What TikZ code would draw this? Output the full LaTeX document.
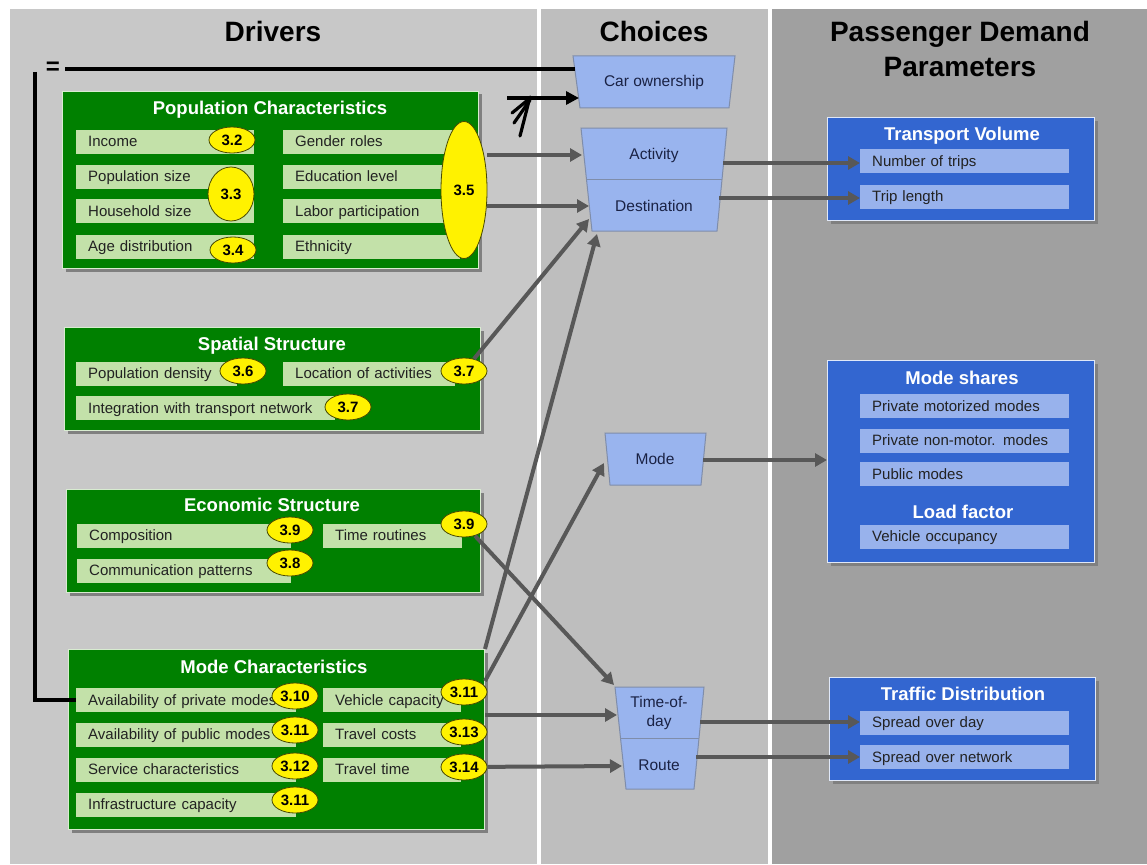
\documentclass[tikz,border=0pt]{standalone}
\usepackage{fontspec}
\setmainfont{Liberation Sans}
\usetikzlibrary{shapes.geometric,arrows.meta,calc,shadows}
\definecolor{drvbg}{HTML}{C8C8C8}
\definecolor{chbg}{HTML}{BEBEBE}
\definecolor{pdbg}{HTML}{A0A0A0}
\definecolor{boxgreen}{HTML}{008000}
\definecolor{gedge}{HTML}{D8ECD0}
\definecolor{itemgreen}{HTML}{C3E1A9}
\definecolor{boxblue}{HTML}{3366D0}
\definecolor{bedge}{HTML}{E0E8F8}
\definecolor{itemblue}{HTML}{98B2EC}
\definecolor{trapfill}{HTML}{99B4EE}
\definecolor{trapedge}{HTML}{7F8DAA}
\definecolor{arrgray}{HTML}{585858}
\definecolor{shadowgray}{HTML}{808080}
\definecolor{badgeedge}{HTML}{4A4A00}
\definecolor{txtdark}{HTML}{222222}
\definecolor{chtext}{HTML}{1A2244}
\newcommand\hdrfont{\fontsize{28}{35}\selectfont\bfseries}
\newcommand\grpfont{\fontsize{18.5}{20}\selectfont\bfseries}
\newcommand\itmfont{\fontsize{15}{17}\selectfont}
\newcommand\bdgfont{\fontsize{15}{16}\selectfont\bfseries}
\newcommand\chfont{\fontsize{15.5}{19}\selectfont}
\begin{document}
\begin{tikzpicture}[x=1pt,y=-1pt,
  gbox/.style={fill=boxgreen, draw=gedge, line width=1pt, drop shadow={shadow xshift=3pt, shadow yshift=-3pt, fill=shadowgray, opacity=1}, anchor=north west, inner sep=0pt},
  bbox/.style={fill=boxblue, draw=bedge, line width=1pt, drop shadow={shadow xshift=3pt, shadow yshift=-3pt, fill=shadowgray, opacity=1}, anchor=north west, inner sep=0pt},
  gtitle/.style={font=\grpfont, text=white, anchor=base},
  itm/.style={fill=itemgreen, inner xsep=12pt, inner ysep=0pt, minimum height=24pt, text height=13pt, text depth=3pt, align=left, anchor=west, font=\itmfont, text=txtdark},
  bitm/.style={itm, fill=itemblue},
  bdg/.style={ellipse, fill=yellow, draw=badgeedge, line width=0.8pt, inner sep=0pt, minimum width=46pt, minimum height=26pt, font=\bdgfont},
  trap/.style={fill=trapfill, draw=trapedge, line width=1pt},
  chlbl/.style={font=\chfont, text=chtext, align=center},
  arr/.style={draw=arrgray, line width=4pt, -{Triangle[length=12pt,width=13pt]}},
  blk/.style={draw=black, line width=3.5pt},
  hdr/.style={font=\hdrfont, anchor=base}
]
\useasboundingbox (0,0) rectangle (1147,864);
\fill[white] (0,0) rectangle (1147,864);
\fill[drvbg] (10,9) rectangle (537,864);
\fill[chbg] (541,9) rectangle (768,864);
\fill[pdbg] (772,9) rectangle (1147,864);

\node[hdr] (hdrv) at (273,42) {Drivers};
\node[hdr] (hch) at (654,42) {Choices};
\node[hdr] (hpd1) at (960,42) {Passenger Demand};
\node[hdr] (hpd2) at (960,77) {Parameters};

% Population characteristics
\node[gbox, minimum width=416pt, minimum height=177pt] (pop) at (62,91) {};
\node[gtitle] (popt) at (270,114) {Population Characteristics};
\node[itm, text width=154pt] (inc) at (76,141.5) {Income};
\node[itm, text width=154pt] (psz) at (76,176.5) {Population size};
\node[itm, text width=154pt] (hsz) at (76,211) {Household size};
\node[itm, text width=154pt] (age) at (76,246.5) {Age distribution};
\node[itm, text width=153pt] (gen) at (283,141.5) {Gender roles};
\node[itm, text width=153pt] (edu) at (283,176.5) {Education level};
\node[itm, text width=153pt] (lab) at (283,211) {Labor participation};
\node[itm, text width=153pt] (eth) at (283,246.5) {Ethnicity};
\node[bdg] (b32) at (232,140) {3.2};
\node[bdg, minimum height=54pt] (b33) at (231,194) {3.3};
\node[bdg] (b34) at (233,250) {3.4};
\node[bdg, minimum height=137pt] (b35) at (464,190) {3.5};

% Spatial structure
\node[gbox, minimum width=416pt, minimum height=103pt] (spa) at (64,327) {};
\node[gtitle] (spat) at (272,350.5) {Spatial Structure};
\node[itm, text width=137pt] (pden) at (76,373.5) {Population density};
\node[itm, text width=148pt] (loc) at (283,373.5) {Location of activities};
\node[itm, text width=235pt] (integ) at (76,408) {Integration with transport network};
\node[bdg] (b36) at (243,371) {3.6};
\node[bdg] (b37a) at (464,371) {3.7};
\node[bdg] (b37b) at (348,407) {3.7};

% Economic structure
\node[gbox, minimum width=414pt, minimum height=103pt] (eco) at (66,489) {};
\node[gtitle] (ecot) at (272,511.5) {Economic Structure};
\node[itm, text width=190pt] (comp) at (77,535.5) {Composition};
\node[itm, text width=115pt] (trout) at (323,535.5) {Time routines};
\node[itm, text width=190pt] (comm) at (77,570.5) {Communication patterns};
\node[bdg] (b39a) at (290,530) {3.9};
\node[bdg] (b39b) at (464,524) {3.9};
\node[bdg] (b38) at (290,563) {3.8};

% Mode characteristics
\node[gbox, minimum width=416pt, minimum height=180pt] (mch) at (68,649) {};
\node[gtitle] (mcht) at (274,673.5) {Mode Characteristics};
\node[itm, text width=196pt] (apm) at (76,700) {Availability of private modes};
\node[itm, text width=196pt] (apub) at (76,734.5) {Availability of public modes};
\node[itm, text width=196pt] (serv) at (76,769.5) {Service characteristics};
\node[itm, text width=196pt] (infra) at (76,804.5) {Infrastructure capacity};
\node[itm, text width=114pt] (vcap) at (323,700) {Vehicle capacity};
\node[itm, text width=114pt] (tcost) at (323,734.5) {Travel costs};
\node[itm, text width=114pt] (ttime) at (323,769.5) {Travel time};
\node[bdg] (b310) at (295,696) {3.10};
\node[bdg] (b311a) at (295,730) {3.11};
\node[bdg] (b312) at (295,766) {3.12};
\node[bdg] (b311b) at (295,800) {3.11};
\node[bdg] (b311r) at (464,692) {3.11};
\node[bdg] (b313) at (464,732) {3.13};
\node[bdg] (b314) at (464,767) {3.14};

% Blue boxes
\node[bbox, minimum width=267pt, minimum height=103pt] (tv) at (827,117) {};
\node[gtitle] (tvt) at (962,140.5) {Transport Volume};
\node[bitm, text width=185pt] (trips) at (860,161) {Number of trips};
\node[bitm, text width=185pt] (tlen) at (860,196.5) {Trip length};

\node[bbox, minimum width=267pt, minimum height=202pt] (ms) at (827,360) {};
\node[gtitle] (mst) at (962,384.5) {Mode shares};
\node[bitm, text width=185pt] (pmm) at (860,406) {Private motorized modes};
\node[bitm, text width=185pt] (pnm) at (860,440.5) {Private non-motor. modes};
\node[bitm, text width=185pt] (pubm) at (860,474) {Public modes};
\node[gtitle] (lft) at (963,518.5) {Load factor};
\node[bitm, text width=185pt] (vocc) at (860,536.5) {Vehicle occupancy};

\node[bbox, minimum width=266pt, minimum height=103pt] (td) at (829,677) {};
\node[gtitle] (tdt) at (963,700.5) {Traffic Distribution};
\node[bitm, text width=185pt] (sday) at (860,722.5) {Spread over day};
\node[bitm, text width=185pt] (snet) at (860,757) {Spread over network};

% Choices
\draw[trap] (573,56) -- (735,56) -- (729,108) -- (580,108) -- cycle;
\node[chlbl] (car) at (654,82) {Car ownership};
\draw[trap] (581,128) -- (727,128) -- (717,231) -- (592,231) -- cycle;
\draw[draw=trapedge, line width=1pt] (586.5,179) -- (722,179);
\node[chlbl] (act) at (654,155) {Activity};
\node[chlbl] (dst) at (654,206) {Destination};
\draw[trap] (605,433) -- (706,433) -- (701,485) -- (610,485) -- cycle;
\node[chlbl] (mode) at (655,459) {Mode};
\draw[trap] (615,687) -- (704,687) -- (694,789) -- (626,789) -- cycle;
\draw[draw=trapedge, line width=1pt] (620.5,738) -- (699,738);
\node[chlbl] (tod) at (659,713) {Time-of-\\day};
\node[chlbl] (rte) at (659,765) {Route};

% connector endpoints
\coordinate (actW) at (582,155);
\coordinate (dstW) at (589,206);
\coordinate (dstSW) at (589,219);
\coordinate (dstS) at (597,234);
\coordinate (modeW) at (604,463);
\coordinate (todNW) at (614,685);
\coordinate (todW) at (617,715);
\coordinate (rteW) at (622,766);
\coordinate (actE) at (723,163);
\coordinate (dstE) at (719,198);
\coordinate (modeE) at (703,460);
\coordinate (todE) at (700,722);
\coordinate (rteE) at (696,757);

\draw[arr] (b35.east |- actW) -- (actW);
\draw[arr] (b35.east |- dstW) -- (dstW);
\draw[arr] (b37a) -- (dstSW);
\draw[arr] (mch.north east) -- (dstS);
\draw[arr] ($(mch.north east)+(0,32)$) -- (modeW);
\draw[arr] (b39b) -- (todNW);
\draw[arr] (mch.east |- todW) -- (todW);
\draw[arr] (b314) -- (rteW);
\draw[arr] (actE) -- (trips.west |- actE);
\draw[arr] (dstE) -- (tlen.west |- dstE);
\draw[arr] (modeE) -- (ms.west |- modeE);
\draw[arr] (todE) -- (sday.west |- todE);
\draw[arr] (rteE) -- (snet.west |- rteE);

% black feedback lines
\node[font=\fontsize{24}{24}\selectfont\bfseries, inner xsep=5pt, inner ysep=0pt] (eq) at (53,68) {=};
\coordinate (carW) at (575,69);
\draw[blk] (eq.east |- carW) -- (carW);
\coordinate (vtop) at (35,72);
\draw[blk] (vtop) |- (apm.west);
\coordinate (bs) at (507,98);
\coordinate (carW2) at (579,98);
\draw[blk, -{Triangle[length=13pt,width=13pt]}] (bs) -- (carW2);
\draw[black, line width=3.2pt, line cap=round] (530,97) -- (520,136);
\draw[black, line width=3.2pt, line cap=round] (529,99) -- (512,113);
\draw[black, line width=3.2pt, line cap=round] (530,100) -- (514,123);
\end{tikzpicture}
\end{document}
